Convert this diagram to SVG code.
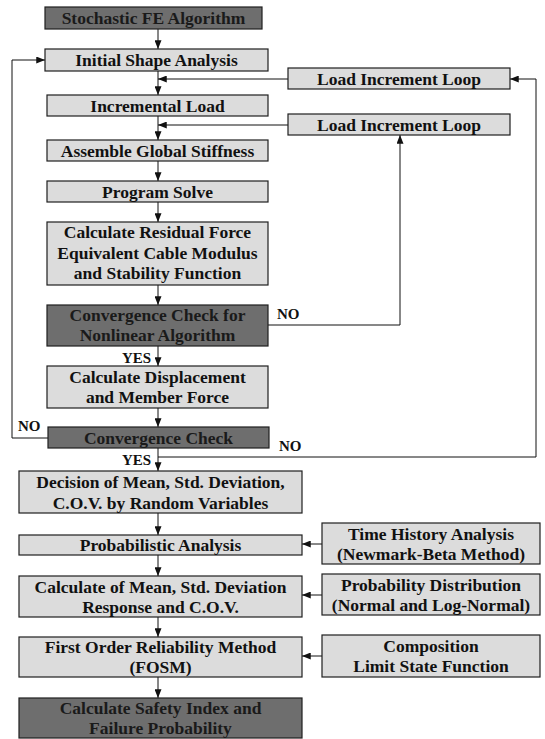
<svg xmlns="http://www.w3.org/2000/svg" width="545" height="739" viewBox="0 0 545 739">
<defs>
<style>
.bx{fill:#dcdcdc;stroke:#1e1e1e;stroke-width:1.2}
.dk{fill:#6e6e6e;stroke:#1e1e1e;stroke-width:1.2}
.t{font-family:"Liberation Serif","Times New Roman",serif;font-weight:bold;font-size:17.5px;fill:#111;text-anchor:middle}
.td{font-family:"Liberation Serif","Times New Roman",serif;font-weight:bold;font-size:17.5px;fill:#1a1a1a;text-anchor:middle}
.lb{font-family:"Liberation Serif","Times New Roman",serif;font-weight:bold;font-size:15px;fill:#111}
.c{fill:none;stroke:#111;stroke-width:1}
</style>
<marker id="ah" viewBox="0 0 10 8" refX="10" refY="4" markerWidth="9" markerHeight="7" markerUnits="userSpaceOnUse" orient="auto">
<path d="M0,0 L10,4 L0,8 z" fill="#111"/>
</marker>
</defs>
<rect width="545" height="739" fill="#ffffff"/>

<g id="connectors">
<path class="c" d="M158,29 V49" marker-end="url(#ah)"/>
<path class="c" d="M158,71 V95" marker-end="url(#ah)"/>
<path class="c" d="M288,79 H158" marker-end="url(#ah)"/>
<path class="c" d="M158,116 V140" marker-end="url(#ah)"/>
<path class="c" d="M288,125 H158" marker-end="url(#ah)"/>
<path class="c" d="M158,161 V181" marker-end="url(#ah)"/>
<path class="c" d="M158,202 V222" marker-end="url(#ah)"/>
<path class="c" d="M158,285 V305" marker-end="url(#ah)"/>
<path class="c" d="M158,346 V366" marker-end="url(#ah)"/>
<path class="c" d="M158,408 V427" marker-end="url(#ah)"/>
<path class="c" d="M158,448 V471" marker-end="url(#ah)"/>
<path class="c" d="M268,325 H400 V135" marker-end="url(#ah)"/>
<path class="c" d="M48,438 H12 V60 H45" marker-end="url(#ah)"/>
<path class="c" d="M158,457 H536 V79 H510" marker-end="url(#ah)"/>
<path class="c" d="M158,513 V535" marker-end="url(#ah)"/>
<path class="c" d="M158,555 V576" marker-end="url(#ah)"/>
<path class="c" d="M158,617 V637" marker-end="url(#ah)"/>
<path class="c" d="M158,677 V698" marker-end="url(#ah)"/>
<path class="c" d="M322,544 H302" marker-end="url(#ah)"/>
<path class="c" d="M322,595 H302" marker-end="url(#ah)"/>
<path class="c" d="M322,656 H302" marker-end="url(#ah)"/>
<text class="lb" x="277" y="319">NO</text>
<text class="lb" x="122" y="363">YES</text>
<text class="lb" x="18" y="431">NO</text>
<text class="lb" x="279" y="451">NO</text>
<text class="lb" x="122" y="465">YES</text>
</g>

<g id="n1"><rect class="dk" x="45" y="7" width="217" height="22"/><text class="td" x="153.5" y="24">Stochastic FE Algorithm</text></g>
<g id="n2"><rect class="bx" x="45" y="49" width="223" height="22"/><text class="t" x="156.5" y="66">Initial Shape Analysis</text></g>
<g id="n3"><rect class="bx" x="47" y="95" width="221" height="21"/><text class="t" x="157.5" y="111.5">Incremental Load</text></g>
<g id="n4"><rect class="bx" x="47" y="140" width="221" height="21"/><text class="t" x="157.5" y="156.5">Assemble Global Stiffness</text></g>
<g id="n5"><rect class="bx" x="47" y="181" width="221" height="21"/><text class="t" x="157.5" y="197.5">Program Solve</text></g>
<g id="n6"><rect class="bx" x="47" y="222" width="221" height="63"/>
<text class="t" x="157.5" y="238">Calculate Residual Force</text>
<text class="t" x="157.5" y="258.5">Equivalent Cable Modulus</text>
<text class="t" x="157.5" y="279">and Stability Function</text></g>
<g id="n7"><rect class="dk" x="47" y="305" width="221" height="41"/>
<text class="td" x="157.5" y="321">Convergence Check for</text>
<text class="td" x="157.5" y="341">Nonlinear Algorithm</text></g>
<g id="n8"><rect class="bx" x="47" y="366" width="221" height="42"/>
<text class="t" x="157.5" y="382.5">Calculate Displacement</text>
<text class="t" x="157.5" y="403">and Member Force</text></g>
<g id="n9"><rect class="dk" x="48" y="427" width="221" height="21"/><text class="td" x="158.5" y="443.5">Convergence Check</text></g>
<g id="n10"><rect class="bx" x="19" y="471" width="283" height="42"/>
<text class="t" x="160.5" y="488">Decision of Mean, Std. Deviation,</text>
<text class="t" x="160.5" y="508.5">C.O.V. by Random Variables</text></g>
<g id="n11"><rect class="bx" x="19" y="535" width="283" height="20"/><text class="t" x="160.5" y="551">Probabilistic Analysis</text></g>
<g id="n12"><rect class="bx" x="19" y="576" width="283" height="41"/>
<text class="t" x="160.5" y="592.5">Calculate of Mean, Std. Deviation</text>
<text class="t" x="160.5" y="612.5">Response and C.O.V.</text></g>
<g id="n13"><rect class="bx" x="19" y="637" width="283" height="40"/>
<text class="t" x="160.5" y="653">First Order Reliability Method</text>
<text class="t" x="160.5" y="673">(FOSM)</text></g>
<g id="n14"><rect class="dk" x="19" y="698" width="283" height="40"/>
<text class="td" x="160.5" y="714">Calculate Safety Index and</text>
<text class="td" x="160.5" y="734">Failure Probability</text></g>
<g id="n15"><rect class="bx" x="288" y="68" width="222" height="21"/><text class="t" x="399" y="84.5">Load Increment Loop</text></g>
<g id="n16"><rect class="bx" x="288" y="114" width="222" height="21"/><text class="t" x="399" y="130.5">Load Increment Loop</text></g>
<g id="n17"><rect class="bx" x="322" y="523" width="218" height="41"/>
<text class="t" x="431" y="539.5">Time History Analysis</text>
<text class="t" x="431" y="560">(Newmark-Beta Method)</text></g>
<g id="n18"><rect class="bx" x="322" y="574" width="218" height="41"/>
<text class="t" x="431" y="590.5">Probability Distribution</text>
<text class="t" x="431" y="611">(Normal and Log-Normal)</text></g>
<g id="n19"><rect class="bx" x="322" y="635" width="218" height="42"/>
<text class="t" x="431" y="651.5">Composition</text>
<text class="t" x="431" y="672">Limit State Function</text></g>
</svg>
